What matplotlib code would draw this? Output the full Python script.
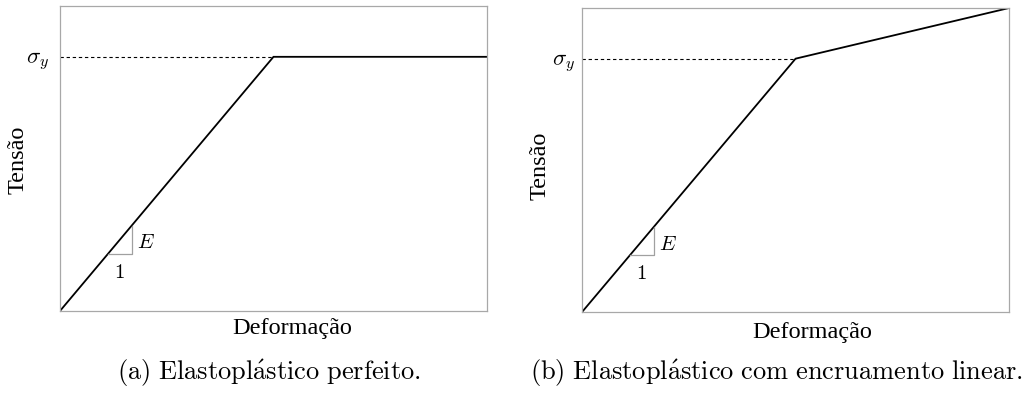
import numpy as np
import matplotlib
matplotlib.use("Agg")
import matplotlib.pyplot as plt

plt.rcParams["mathtext.fontset"] = "cm"

# strain / stress points of the two constitutive models (normalised units)
strain_perfect = [0.0, 0.5, 1.0]
stress_perfect = [0.0, 1.0, 1.0]

strain_hardening = [0.0, 0.5, 1.0]
stress_hardening = [0.0, 1.0, 1.2]

sigma_y = 1.0
young_modulus = 2.0
slope_x = [0.112, 0.168]

captions = [r"$\mathrm{(a)\ Elastopl\acute{a}stico\ perfeito.}$",
            r"$\mathrm{(b)\ Elastopl\acute{a}stico\ com\ encruamento\ linear.}$"]

label_family = ["Liberation Serif", "DejaVu Serif"]
label_size = 17.5


def draw_model(ax, strain, stress, ypad):
    """Stress-strain curve with the yield line and the slope triangle."""
    ax.plot(strain, stress, color="black", lw=1.3, solid_joinstyle="miter")
    # dashed yield level up to the yield strain
    ax.hlines(sigma_y, 0, sigma_y / young_modulus, color="black", lw=0.8,
              linestyles=(0, (3, 2.5)), zorder=1)

    # slope triangle: run of 1, rise of E
    x0, x1 = slope_x
    y0, y1 = young_modulus * x0, young_modulus * x1
    ax.plot([x0, x1, x1], [y0, y0, y1], color="#a0a0a0", lw=0.9)
    ax.text(x1 + 0.012, (y0 + y1) / 2 - 0.01, r"$E$", fontsize=15,
            ha="left", va="center")
    ax.text((x0 + x1) / 2, y0 - 0.07, r"$1$", fontsize=15,
            ha="center", va="center")

    ax.set_xlim(0, 1)
    ax.set_ylim(0, 1.2)
    ax.set_xticks([])
    ax.set_yticks([sigma_y])
    ax.set_yticklabels([r"$\sigma_y$"], fontsize=16.5)
    ax.tick_params(axis="y", length=0, pad=ypad)
    for spine in ax.spines.values():
        spine.set_color("#a8a8a8")
        spine.set_linewidth(0.9)

    ax.set_xlabel("Deformação", family=label_family, fontsize=label_size,
                  va="center")
    ax.set_ylabel("Tensão", family=label_family, fontsize=label_size,
                  va="center", ha="center")


fig = plt.figure(figsize=(10.32, 3.94), dpi=100)
ax1 = fig.add_axes([0.0581, 0.2107, 0.4138, 0.7741])
ax2 = fig.add_axes([0.5640, 0.2081, 0.4138, 0.7716])

draw_model(ax1, strain_perfect, stress_perfect, ypad=8)
draw_model(ax2, strain_hardening, stress_hardening, ypad=5)

ax1.xaxis.set_label_coords(0.543, -0.056)
ax2.xaxis.set_label_coords(0.539, -0.066)
ax1.yaxis.set_label_coords(-0.098, 0.495)
ax2.yaxis.set_label_coords(-0.098, 0.48)

fig.text(269 / 1032, 1 - 373 / 394, captions[0], fontsize=19,
         ha="center", va="center")
fig.text(776 / 1032, 1 - 373 / 394, captions[1], fontsize=19,
         ha="center", va="center")

fig.savefig("out.png", dpi=100)
